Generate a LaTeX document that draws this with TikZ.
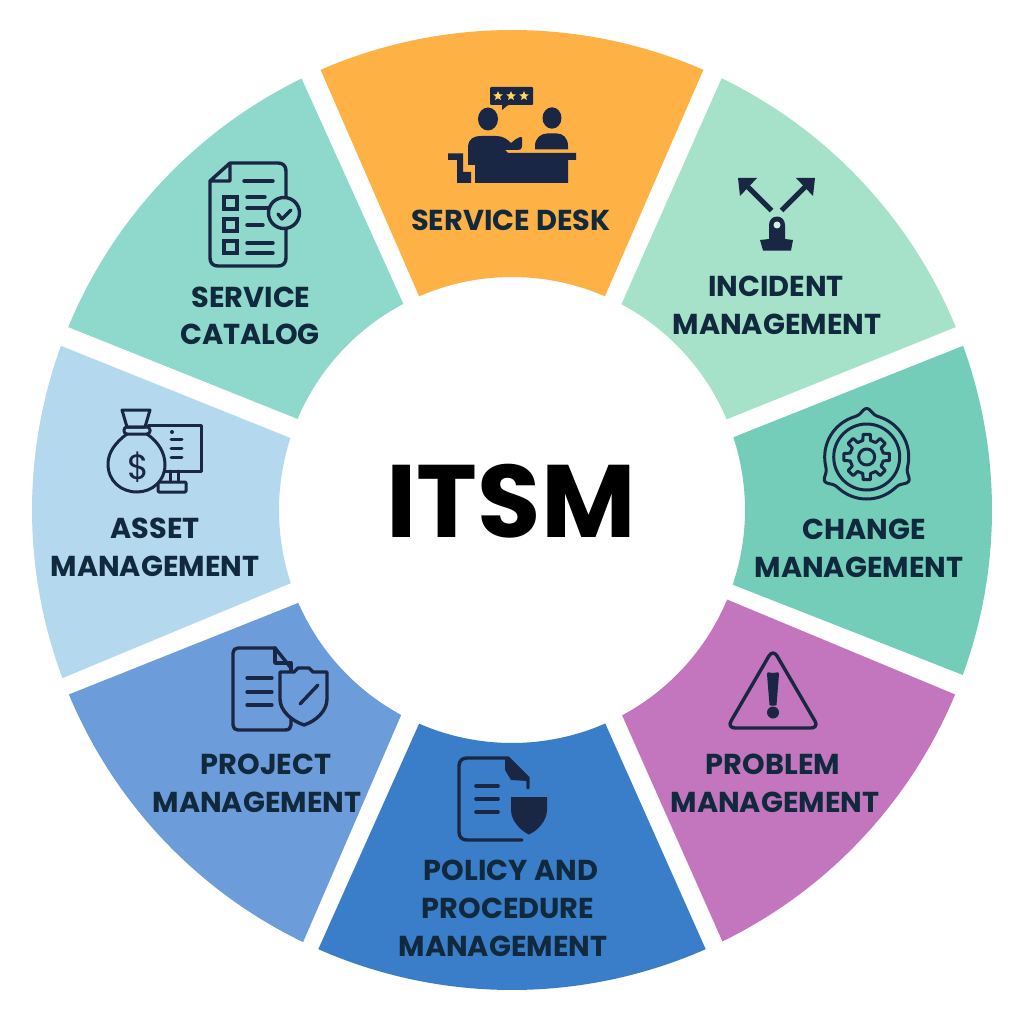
\documentclass[tikz,border=0pt]{standalone}
\usepackage{fontspec}
\setmainfont{Poppins}
\newcommand\seg[5]{\fill[#1] (#2:480) arc[start angle=#2,end angle=#3,radius=480] -- (#5:233) arc[start angle=#5,end angle=#4,radius=233] -- cycle;}
\definecolor{navy}{HTML}{1A2744}
\definecolor{lab}{HTML}{10293D}
\definecolor{starc}{HTML}{FFD65F}
\definecolor{cDesk}{HTML}{FEB246}
\definecolor{cInc}{HTML}{A6E1C9}
\definecolor{cChg}{HTML}{73CDB9}
\definecolor{cPrb}{HTML}{C376BD}
\definecolor{cPol}{HTML}{3A7DC8}
\definecolor{cPrj}{HTML}{6C9CDA}
\definecolor{cAst}{HTML}{B4D8EE}
\definecolor{cCat}{HTML}{8FD8CC}
\tikzset{
 lbl/.style={font=\fontsize{28.8}{28.8}\selectfont\bfseries,text=lab,anchor=base,inner sep=0pt},
 ico/.style={draw=navy,line width=3.4pt,line cap=round,line join=round},
 thin ico/.style={draw=navy,line width=3pt,line cap=round,line join=round},
}
\begin{document}
\begin{tikzpicture}[x=1pt,y=-1pt]
\useasboundingbox (0,0) rectangle (1024,1024);
% segments
\begin{scope}[shift={(512,510)},y=1pt]
\seg{cDesk}{66.5}{113.5}{66.5}{113.5}
\seg{cInc}{22.4}{64.1}{22.9}{62}
\seg{cChg}{-20.1}{20}{-18.7}{18.2}
\seg{cPrb}{-64}{-22.6}{-61.8}{-22.6}
\seg{cPol}{-113.8}{-66.2}{-113.5}{-66.4}
\seg{cPrj}{-157.4}{-115.8}{-156.5}{-118.4}
\seg{cAst}{160}{200.5}{162}{198.3}
\seg{cCat}{116}{157.6}{117.8}{157}
\end{scope}
% centre
\node[font=\fontsize{103}{103}\selectfont\bfseries,text=black,anchor=base,inner sep=0pt] (itsm) at (511,537) {ITSM};
% labels
\node[lbl] (l1) at (511,230) {SERVICE DESK};
\node[lbl] (l2a) at (776,296) {INCIDENT};
\node[lbl] (l2b) at (777,334) {MANAGEMENT};
\node[lbl] (l3a) at (864,539) {CHANGE};
\node[lbl] (l3b) at (859,577) {MANAGEMENT};
\node[lbl] (l4a) at (773,774) {PROBLEM};
\node[lbl] (l4b) at (775,812) {MANAGEMENT};
\node[lbl] (l5a) at (511,880) {POLICY AND};
\node[lbl] (l5b) at (508,918) {PROCEDURE};
\node[lbl] (l5c) at (503,956) {MANAGEMENT};
\node[lbl] (l6a) at (266,774) {PROJECT};
\node[lbl] (l6b) at (257,812) {MANAGEMENT};
\node[lbl] (l7a) at (155,538) {ASSET};
\node[lbl] (l7b) at (155,576) {MANAGEMENT};
\node[lbl] (l8a) at (251,307) {SERVICE};
\node[lbl] (l8b) at (250,344) {CATALOG};
% service desk icon
\fill[navy] (490,87) [rounded corners=1pt] -- (533,87) -- (533,105) -- (508,105) [sharp corners] -- (502,110) -- (502,105) [rounded corners=1pt] -- (490,105) -- cycle;
\foreach \sx in {498,511,524}{
 \fill[starc] plot[samples at={90,126,162,198,234,270,306,342,378,414}] ({\sx+(mod(round((\x-90)/36),2)==0?5:2.2)*cos(\x)},{96-(mod(round((\x-90)/36),2)==0?5:2.2)*sin(\x)}) -- cycle;
}
\fill[navy] (488,119) ellipse[x radius=10,y radius=11.5];
\fill[navy] (552,118) ellipse[x radius=9.5,y radius=10.7];
\fill[navy] (535,149.5) -- (535,146) .. controls (535,138) and (541,133.5) .. (547,133.5) -- (557,133.5) .. controls (563,133.5) and (568,138) .. (568,146) -- (568,149.5) -- cycle;
\fill[navy] (468,165) -- (468,148) .. controls (468,138) and (474,136) .. (482,136) -- (496,136) .. controls (503,136) and (507,139) .. (511,143) -- (516,139) -- (520,137) -- (522,137.5) -- (522,146) .. controls (522,150) and (519,150) .. (515,150) -- (505,150) -- (508,153) -- (576,153) -- (576,160) -- (568,160) -- (568,183) -- (475,183) -- (475,165) -- cycle;
\fill[navy] (448,153.5) -- (463,153.5) -- (463,172) -- (471,172) -- (471,183) -- (457,183) -- (457,160) -- (448,160) -- cycle;
% incident icon
\draw[navy,line width=5pt] (748,187) -- (771.5,210.5);
\draw[navy,line width=5pt] (805,187) -- (781.5,210.5);
\fill[navy] (738,178) -- (757,178) -- (740,196) -- cycle;
\fill[navy] (815,178) -- (796,178) -- (813,196) -- cycle;
\fill[navy] (769,239) -- (769,225) .. controls (769,220) and (772.5,216.5) .. (777,216.5) .. controls (781.5,216.5) and (785,220) .. (785,225) -- (785,239) -- (793,240) -- (791,250.5) -- (763,250.5) -- (760,240) -- cycle;
\fill[cInc!50!white] (777,225) circle[radius=3.5];
% change icon
\begin{scope}[shift={(866.7,457)},y=1pt]
\draw[thin ico] plot[domain=0:360,samples=240,smooth cycle] (\x:{42+6.5*((1+cos(3*(\x-90)))/2)^24});
\draw[thin ico] (0,0) circle[radius=33];
\draw[thin ico] (0,0) circle[radius=8];
\draw[thin ico] (78:17) \foreach \a in {0,45,...,315}{ -- (\a+90-13:17) -- (\a+90-9:23) -- (\a+90+9:23) -- (\a+90+13:17)} -- cycle;
\end{scope}
% problem icon
\draw[ico,rounded corners=8pt] (773,649) -- (727,728) -- (819,728) -- cycle;
\fill[navy] (767,674) .. controls (767,671) and (770,673) .. (773,673) .. controls (776,673) and (779,671) .. (779,674) -- (776.5,705) .. controls (775.5,706) and (770.5,706) .. (769.5,705) -- cycle;
\fill[navy] (773,712.5) circle[radius=6];
% policy icon
\draw[ico] (522,840) -- (467,840) .. controls (462,840) and (459,837) .. (459,832) -- (459,766) .. controls (459,761) and (462,758) .. (467,758) -- (508,758) -- (528,778) -- (528,788);
\fill[navy] (505,758) -- (508,758) -- (528,778) -- (528,781) -- (511,780) -- (505,770) -- cycle;
\draw[navy,line width=3.6pt,line cap=round] (476,786) -- (498,786) (476,799) -- (498,799) (476,812) -- (498,812);
\fill[navy] (511,797) -- (547,797) -- (547,810) .. controls (547,821) and (537,831) .. (529,834.5) .. controls (521,831) and (511,821) .. (511,810) -- cycle;
% project icon
\draw[ico] (291,668) -- (275,648) -- (238,648) .. controls (235,648) and (233,650) .. (233,653) -- (233,725) .. controls (233,728) and (235,730) .. (238,730) -- (285,730) .. controls (289,730) and (291,728) .. (291,725) -- (291,715);
\draw[ico] (275,648) -- (275,663) -- (291,663) -- (291,672);
\draw[navy,line width=3.2pt,line cap=round] (247,678) -- (272,678) (247,692) -- (272,692) (247,705) -- (272,705);
\draw[ico,fill=cPrj] (280,672) -- (294,672) -- (298,668) -- (309,668) -- (313,672) -- (327,672) -- (327,699) .. controls (327,711) and (316,721) .. (304,725) .. controls (292,721) and (280,711) .. (280,699) -- cycle;
\draw[ico] (300,704) -- (318,685);
% asset icon
\draw[thin ico] (148,425) -- (201,425) -- (201,471) -- (160,471);
\draw[thin ico] (170,471) -- (170,482) (178,471) -- (178,482);
\draw[thin ico,rounded corners=1pt] (158,482) rectangle (186,492);
\fill[navy] (172,432) circle[radius=2];
\draw[navy,line width=3pt,line cap=round] (171,439) -- (182,439) (171,448) -- (182,448) (171,457) -- (182,457);
\draw[thin ico,fill=cAst] (127,434) .. controls (116,442) and (108,452) .. (108,464) .. controls (108,481) and (121,492) .. (137,492) .. controls (152,492) and (165,481) .. (165,465) .. controls (165,452) and (158,442) .. (147,434);
\draw[thin ico] (122,410) -- (150,410) -- (145,427) -- (127,427) -- cycle;
\draw[thin ico,rounded corners=3pt] (124,427) rectangle (150,434);
\node[font=\fontsize{35}{35}\selectfont,text=navy,inner sep=0pt] (dollar) at (138,467) {\$};
% catalog icon
\draw[ico] (230,163) -- (278,163) .. controls (283,163) and (286,166) .. (286,171) -- (286,258) .. controls (286,263) and (283,266) .. (278,266) -- (218,266) .. controls (213,266) and (210,263) .. (210,258) -- (210,181) -- (230,163) -- (230,181) -- (210,181);
\draw[navy,line width=3.4pt,line cap=round] (244,181) -- (273,181) (247,197) -- (265,197) (247,208) -- (272,208) (247,225) -- (263,225) (247,243) -- (273,243) (247,253) -- (273,253);
\draw[ico,line join=miter] (224,197) rectangle (237,209) (224,219) rectangle (237,231) (224,241) rectangle (237,253);
\draw[ico,fill=cCat] (284,213) circle[radius=15.5];
\draw[ico] (278,214) -- (282,219) -- (291,210);
\end{tikzpicture}
\end{document}
